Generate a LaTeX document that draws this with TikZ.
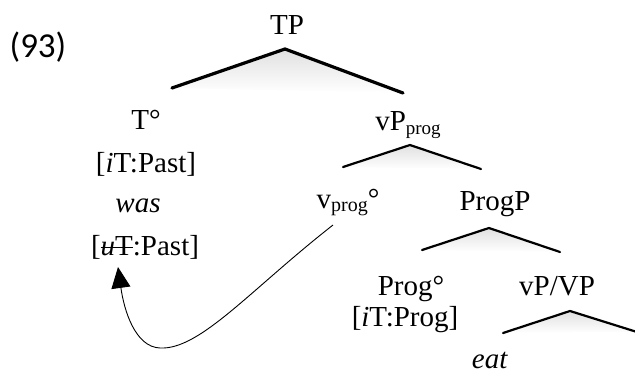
\documentclass[tikz,border=0pt]{standalone}
\usepackage{fontspec}
\setmainfont{Liberation Serif}
\newfontfamily\numfont{Carlito}
\newcommand\mystrike[1]{\setbox0\hbox{#1}\rlap{\rule[0.25em]{\wd0}{0.9pt}}\box0}
\usetikzlibrary{arrows.meta}
\begin{document}
\begin{tikzpicture}[x=1pt,y=-1pt,
  lbl/.style={anchor=base, inner sep=0pt, font=\fontsize{29}{34}\selectfont},
  tri/.style={line width=2.2pt, line join=miter, line cap=round},
  trishade/.style={top color=gray!24, bottom color=white, draw=none},
  mv/.style={line width=0.9pt, -{Triangle[length=21pt,width=19pt]}}]
\useasboundingbox (0,0) rectangle (635,376);
\clip (0,0) rectangle (635,376);

% example number
\node[anchor=base, inner sep=0pt, font=\numfont\fontsize{35}{40}\selectfont] (ex) at (38,57) {(93)};

% triangle vertices
\coordinate (tpL) at (172,88);  \coordinate (tpT) at (285,49);  \coordinate (tpR) at (403,93);
\coordinate (vpL) at (343,167); \coordinate (vpT) at (410,145); \coordinate (vpR) at (481,169);
\coordinate (pgL) at (422,250); \coordinate (pgT) at (489,228); \coordinate (pgR) at (560,252);
\coordinate (vvL) at (503,333); \coordinate (vvT) at (570,311); \coordinate (vvR) at (637,332);

% shadows
\shade[trishade] (tpL) -- (tpT) -- (tpR) -- cycle;
\shade[trishade] (vpL) -- (vpT) -- (vpR) -- cycle;
\shade[trishade] (pgL) -- (pgT) -- (pgR) -- cycle;
\shade[trishade] (vvL) -- (vvT) -- (vvR) -- cycle;

% triangles
\draw[tri, line width=3.2pt] (tpL) -- (tpT) -- (tpR);
\draw[tri] (vpL) -- (vpT) -- (vpR);
\draw[tri] (pgL) -- (pgT) -- (pgR);
\draw[tri] (vvL) -- (vvT) -- (vvR);

% labels
\node[lbl] (tp) at (287,34) {TP};
\node[lbl] (t) at (146,129) {T°};
\node[lbl] (itpast) at (146,172) {[\textit{i}T:Past]};
\node[lbl] (was) at (138,212) {\textit{was}};
\node[lbl] (utpast) at (145,255) {[\mystrike{\textit{u}T}:Past]};
\node[lbl] (vpprog) at (408,130) {vP{\fontsize{19}{21}\selectfont\raisebox{-4pt}{prog}}};
\node[lbl] (vprog) at (348,208) {v{\fontsize{20}{22}\selectfont\raisebox{-3pt}{prog}}°};
\node[lbl] (progp) at (495,210) {ProgP};
\node[lbl] (prog) at (411,295) {Prog°};
\node[lbl] (vpvp) at (557,295) {vP/VP};
\node[lbl] (itprog) at (405,326) {[\textit{i}T:Prog]};
\node[lbl] (eat) at (490,368) {\textit{eat}};

% movement arrow
\coordinate (arrS) at (333,225);
\coordinate (arrE) at (118,267);
\draw[mv] (arrS) .. controls (250,290) and (200,350) .. (160,348)
  .. controls (135,347) and (124,310) .. (arrE);
\end{tikzpicture}
\end{document}
